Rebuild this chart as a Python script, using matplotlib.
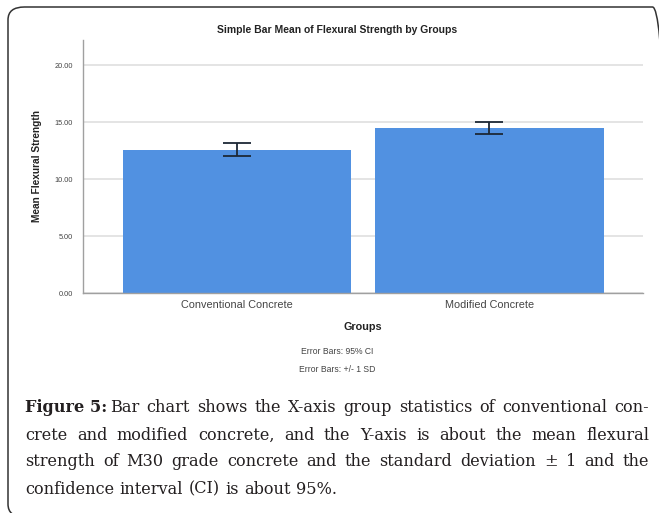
import matplotlib
matplotlib.use("Agg")
import matplotlib.pyplot as plt
from matplotlib.patches import FancyBboxPatch

# data
groups = ["Conventional Concrete", "Modified Concrete"]
means = [12.55, 14.47]
err_low = [11.98, 13.98]
err_high = [13.17, 15.00]
yticks = [0, 5, 10, 15, 20]

caption_lines = [
    "Bar chart shows the X-axis group statistics of conventional con-",
    "crete and modified concrete, and the Y-axis is about the mean flexural",
    "strength of M30 grade concrete and the standard deviation \u00b1 1 and the",
    "confidence interval (CI) is about 95%.",
]

plt.rcParams['font.family'] = ['Liberation Sans', 'DejaVu Sans']

W, H = 659, 513
fig = plt.figure(figsize=(W / 100, H / 100), dpi=100)

# rounded frame around the figure block (right and bottom edges run off the image)
frame = FancyBboxPatch((8 / W, 1 - 517 / H), 661 / W, 510 / H,
                       boxstyle="round,pad=0,rounding_size=0.025",
                       transform=fig.transFigure, fill=False,
                       edgecolor="#333333", linewidth=1.1, clip_on=False)
fig.patches.append(frame)

ax = fig.add_axes([83 / W, 1 - 293 / H, 560 / W, 253 / H])
x = list(range(len(groups)))
ax.bar(x, means, width=0.905, color="#5191e1", zorder=2)
yerr = [[m - lo for m, lo in zip(means, err_low)],
        [hi - m for m, hi in zip(means, err_high)]]
ax.errorbar(x, means, yerr=yerr, fmt="none", ecolor="#1c2836",
            elinewidth=1.3, capsize=10, capthick=1.3, zorder=3)

ax.set_xlim(-0.611, 1.609)
ax.set_ylim(0, 22.2)
ax.set_yticks(yticks)
ax.set_yticklabels([f"{v:.2f}" for v in yticks], fontsize=5.3, color="#444444")
ax.set_xticks(x)
ax.set_xticklabels(groups, fontsize=7.8, color="#444444")
ax.tick_params(axis="both", length=0)
ax.tick_params(axis="y", pad=7)
ax.tick_params(axis="x", pad=5)
ax.grid(axis="y", color="#dddddd", linewidth=1.1, zorder=0)
for s in ["top", "right"]:
    ax.spines[s].set_visible(False)
for s in ["left", "bottom"]:
    ax.spines[s].set_color("#a0a0a0")
    ax.spines[s].set_linewidth(1.0)
ax.set_ylabel("Mean Flexural Strength", fontsize=7.3, fontweight="bold",
              color="#222222", labelpad=9)

fig.text(337 / W, 1 - 30 / H, "Simple Bar Mean of Flexural Strength by Groups",
         ha="center", va="center", fontsize=7.5, fontweight="bold", color="#222222")
fig.text(363 / W, 1 - 327 / H, "Groups", ha="center", va="center",
         fontsize=7.8, fontweight="bold", color="#222222")
fig.text(337 / W, 1 - 351 / H, "Error Bars: 95% CI", ha="center", va="center",
         fontsize=6.2, color="#444444")
fig.text(337 / W, 1 - 370 / H, "Error Bars: +/- 1 SD", ha="center", va="center",
         fontsize=6.2, color="#444444")

# caption, justified word by word
renderer = fig.canvas.get_renderer()
cap_kw = dict(fontsize=11.6, family="DejaVu Serif", color="#231f20", va="baseline")
x_left, x_right = 25, 649
baselines = [412, 439.5, 466.5, 493.5]


def width_px(t):
    return t.get_window_extent(renderer).width


for i, (line, yb) in enumerate(zip(caption_lines, baselines)):
    items = []
    if i == 0:
        items.append((fig.text(0, 1 - yb / H, "Figure 5:", fontweight="bold", **cap_kw), 3))
    for w in line.split(" "):
        items.append((fig.text(0, 1 - yb / H, w, **cap_kw), None))
    widths = [width_px(t) for t, _ in items]
    fixed = sum(widths) + sum(g for _, g in items if g)
    n_gaps = len(items) - 1 - sum(1 for _, g in items if g)
    if i < len(caption_lines) - 1:
        gap = (x_right - x_left - fixed) / n_gaps
    else:
        gap = 5.5
    xc = x_left
    for (t, g), wd in zip(items, widths):
        t.set_x(xc / W)
        xc += wd + (g if g else gap)

fig.savefig("out.png", dpi=100)
